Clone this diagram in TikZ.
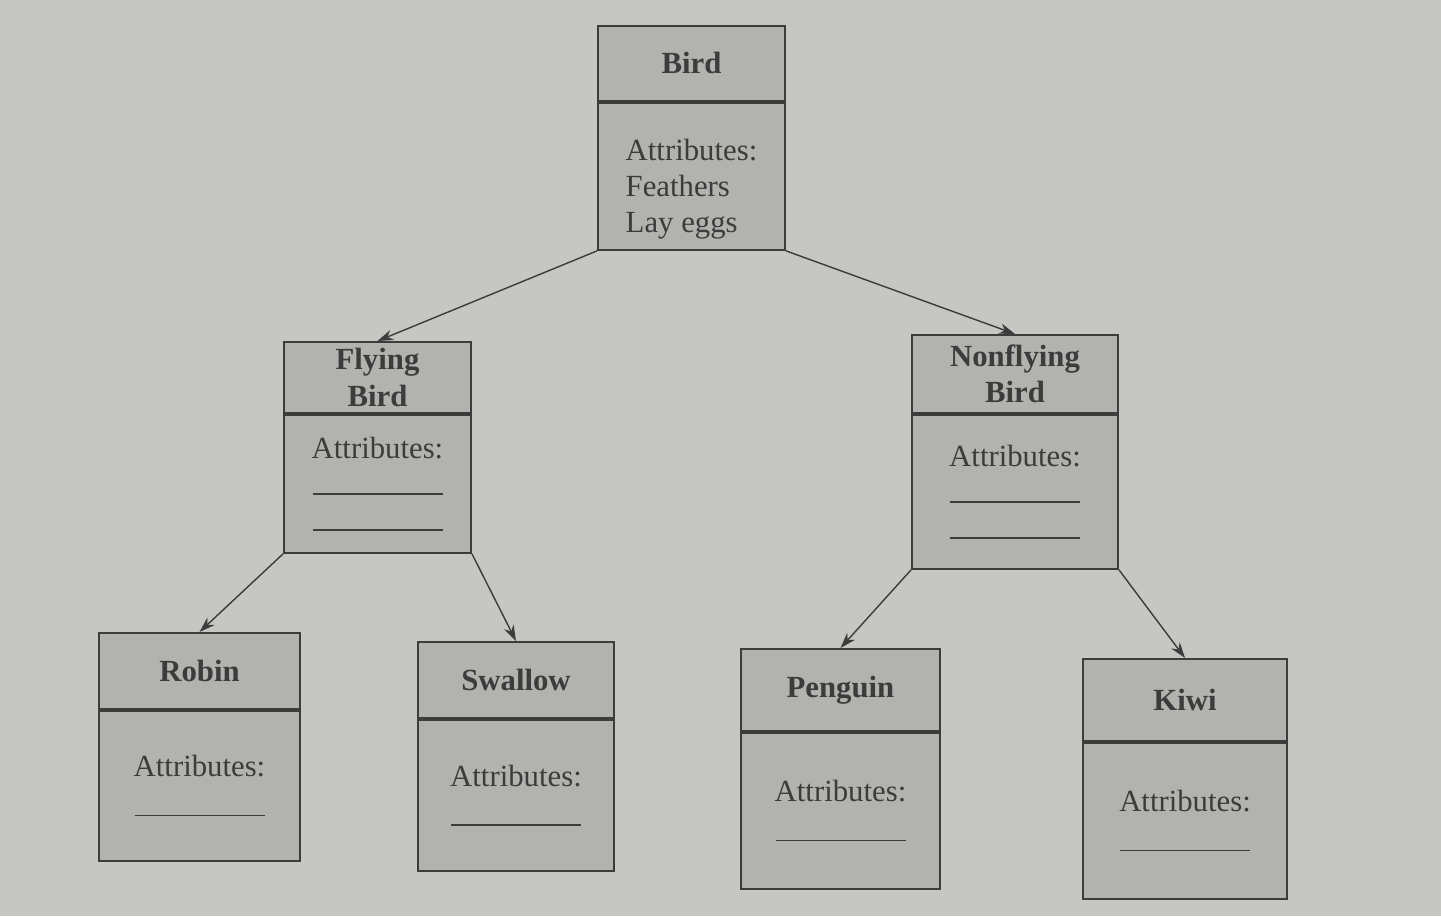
\documentclass[tikz,border=0pt]{standalone}
\usepackage{fontspec}
\setmainfont{Liberation Serif}
\usepackage{tikz}
\usetikzlibrary{positioning, arrows.meta}
\definecolor{paper}{RGB}{198,198,194}
\definecolor{boxgray}{RGB}{178,178,175}
\definecolor{ink}{RGB}{60,60,60}
\tikzset{
>={Stealth[length=9pt, width=6pt]}, % small filled arrow heads
head/.style={draw=ink, line width=1.1pt, fill=boxgray, inner sep=0pt, anchor=north, align=center, text=ink, font=\fontsize{17.5}{20.5}\selectfont\bfseries}, % class name part
body/.style={draw=ink, line width=1.1pt, fill=boxgray, inner sep=0pt, below=0pt, text=ink, font=\fontsize{17.5}{20.5}\selectfont}, % attribute part
link/.style={->, draw=ink, line width=0.8pt}, % inheritance arrows
}
\newcommand{\blank}{\rule{2.6cm}{0.9pt}}

\begin{document}
\begin{tikzpicture}
    \fill[paper] (0,0) rectangle (28.82,-18.32);

    % root
    \node[head, minimum width=3.74cm, minimum height=1.5cm] (bird) at (13.83,-0.5) {Bird};
    \node[body, minimum width=3.74cm, minimum height=2.94cm, below=0pt of bird, align=left] (birdbody) {\rule{0pt}{0.93cm}Attributes:\\Feathers\\Lay eggs};

    % second level
    \node[head, minimum width=3.74cm, minimum height=1.42cm] (fly) at (7.55,-6.82) {Flying\\Bird};
    \node[body, minimum width=3.74cm, minimum height=2.76cm, below=0pt of fly, align=center] (flybody) {Attributes:\\\blank\\\blank};

    \node[head, minimum width=4.12cm, minimum height=1.56cm] (nonfly) at (20.3,-6.68) {Nonflying\\Bird};
    \node[body, minimum width=4.12cm, minimum height=3.08cm, below=0pt of nonfly, align=center] (nonflybody) {Attributes:\\\blank\\\blank};

    % leaves
    \node[head, minimum width=4.02cm, minimum height=1.52cm] (robin) at (3.99,-12.64) {Robin};
    \node[body, minimum width=4.02cm, minimum height=3cm, below=0pt of robin, align=center] (robinbody) {Attributes:\\[2pt]\blank};

    \node[head, minimum width=3.92cm, minimum height=1.52cm] (swallow) at (10.32,-12.82) {Swallow};
    \node[body, minimum width=3.92cm, minimum height=3.02cm, below=0pt of swallow, align=center] (swallowbody) {Attributes:\\[2pt]\blank};

    \node[head, minimum width=3.98cm, minimum height=1.64cm] (penguin) at (16.81,-12.96) {Penguin};
    \node[body, minimum width=3.98cm, minimum height=3.12cm, below=0pt of penguin, align=center] (penguinbody) {Attributes:\\[2pt]\blank};

    \node[head, minimum width=4.08cm, minimum height=1.64cm] (kiwi) at (23.7,-13.16) {Kiwi};
    \node[body, minimum width=4.08cm, minimum height=3.12cm, below=0pt of kiwi, align=center] (kiwibody) {Attributes:\\[2pt]\blank};

    % inheritance
    \draw[link] (birdbody.south west) -- (fly.north);
    \draw[link] (birdbody.south east) -- (nonfly.north);
    \draw[link] (flybody.south west) -- (robin.north);
    \draw[link] (flybody.south east) -- (swallow.north);
    \draw[link] (nonflybody.south west) -- (penguin.north);
    \draw[link] (nonflybody.south east) -- (kiwi.north);
\end{tikzpicture}
\end{document}
